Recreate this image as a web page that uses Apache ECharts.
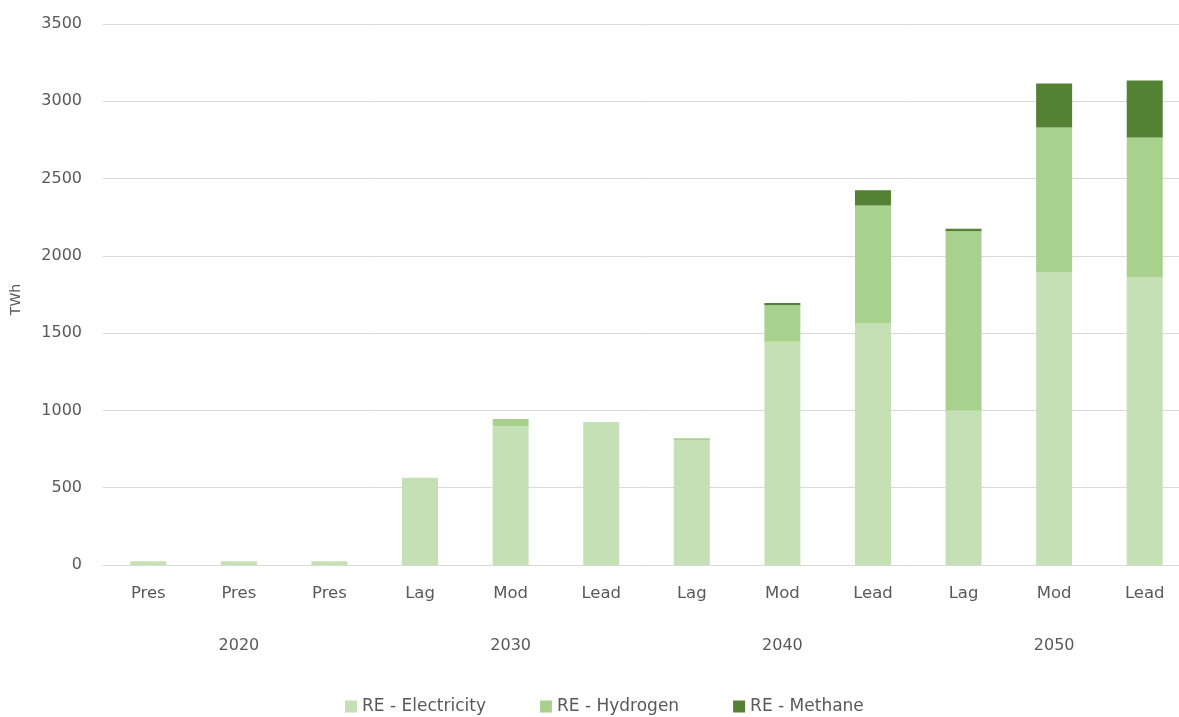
<!DOCTYPE html>
<html>
<head>
<meta charset="utf-8">
<script src="https://cdn.jsdelivr.net/npm/echarts@6/dist/echarts.min.js"></script>
<style>
  html, body { margin: 0; padding: 0; background: #ffffff; }
  #chart { width: 1179px; height: 717px; }
</style>
</head>
<body>
<div id="chart"></div>
<script>
// Scenario labels under each bar and the year groups they belong to
const scenarios = ['Pres', 'Pres', 'Pres', 'Lag', 'Mod', 'Lead', 'Lag', 'Mod', 'Lead', 'Lag', 'Mod', 'Lead'];
const yearLabels = ['', '2020', '', '', '2030', '', '', '2040', '', '', '2050', ''];

// Renewable energy by carrier, TWh
const electricity = [25, 25, 25, 565, 900, 925, 805, 1445, 1565, 1000, 1895, 1860];
const hydrogen    = [0, 0, 0, 0, 45, 0, 15, 235, 760, 1160, 935, 905];
const methane     = [0, 0, 0, 0, 0, 0, 0, 15, 100, 15, 285, 370];

const yTicks = { min: 0, max: 3500, interval: 500 };

const textColor = '#595959';
const gridColor = '#d9d9d9';
const fontFamily = '"DejaVu Sans", "Noto Sans", sans-serif';

const chart = echarts.init(document.getElementById('chart'));

const barSeries = (name, data, color) => ({
  name,
  type: 'bar',
  stack: 'total',
  data,
  barWidth: 36,
  itemStyle: { color },
  emphasis: { disabled: true }
});

chart.setOption({
  animation: false,
  textStyle: { fontFamily },
  // the plot runs a little past the right edge of the canvas
  grid: { left: 103, width: 1087, top: 24, bottom: 152, outerBoundsMode: 'none' },
  legend: {
    left: 345,
    top: 698,
    padding: 0,
    itemWidth: 12,
    itemHeight: 12,
    itemGap: 54,
    icon: 'rect',
    textStyle: { color: textColor, fontSize: 17, fontFamily },
    data: ['RE - Electricity', 'RE - Hydrogen', 'RE - Methane']
  },
  xAxis: [
    {
      type: 'category',
      data: scenarios,
      axisLine: { lineStyle: { color: gridColor, width: 1 } },
      axisTick: { show: false },
      axisLabel: { color: textColor, fontSize: 16.5, margin: 20, fontFamily }
    },
    {
      type: 'category',
      data: yearLabels,
      position: 'bottom',
      offset: 53,
      axisLine: { show: false },
      axisTick: { show: false },
      axisLabel: { color: textColor, fontSize: 16, margin: 20, interval: 0, fontFamily }
    }
  ],
  yAxis: {
    type: 'value',
    min: yTicks.min,
    max: yTicks.max,
    interval: yTicks.interval,
    name: 'TWh',
    nameLocation: 'middle',
    nameRotate: 90,
    nameGap: 80,
    nameTextStyle: { color: textColor, fontSize: 14, fontFamily, padding: [0, 10, 0, 0] },
    axisLine: { show: false },
    axisTick: { show: false },
    axisLabel: { color: textColor, fontSize: 16, margin: 21, fontFamily, formatter: v => String(v) },
    splitLine: { lineStyle: { color: gridColor, width: 1 } }
  },
  series: [
    barSeries('RE - Electricity', electricity, '#c5e0b4'),
    barSeries('RE - Hydrogen', hydrogen, '#a9d18e'),
    barSeries('RE - Methane', methane, '#548235')
  ]
});
</script>
</body>
</html>
